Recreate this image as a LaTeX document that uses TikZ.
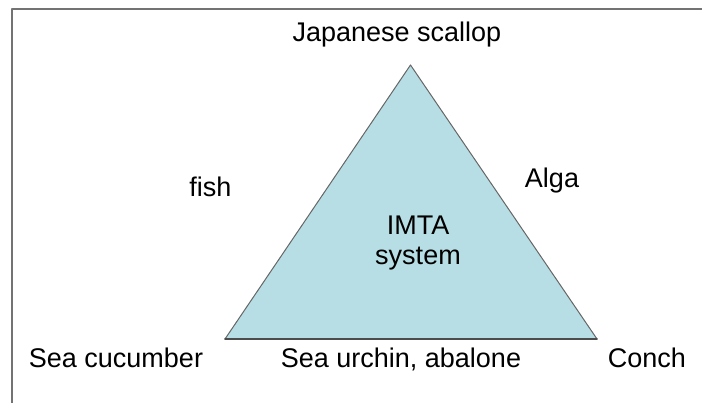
\documentclass[tikz,border=0pt]{standalone}
\usepackage{fontspec}
\setmainfont{Liberation Sans}
\definecolor{aqua}{RGB}{183,222,228}
\begin{document}
\begin{tikzpicture}[x=1pt, y=-1pt, line join=round, line cap=round,
  font=\fontsize{27}{30}\selectfont,
  lbl/.style={anchor=base, inner sep=0pt}]
	\useasboundingbox (0,0) rectangle (702,403);
	\draw[black!55, line width=2pt, line cap=butt] (12,404)--(12,9.5)--(703,9.5);
	
	\coordinate (apex) at (410.5,65);
	\coordinate (bl) at (225,339);
	\coordinate (br) at (597,339);
	\filldraw[fill=aqua, draw=black!60, line width=1pt] (apex)--(bl)--(br)--cycle;
	\draw[black!70, line width=1.6pt] (bl)--(br);
	
	\node[align=center, inner sep=0pt] (imta) at (418,243) {IMTA\\system};
	\foreach \name/\x/\y/\txt in {scallop/397/42/{Japanese scallop}, fish/210.5/197/fish,
		alga/552/188/Alga, cucumber/116/368/{Sea cucumber},
		urchin/401/368/{Sea urchin, abalone}, conch/647/368/Conch}
	\node[lbl] (\name) at (\x,\y) {\txt};
\end{tikzpicture}
\end{document}
